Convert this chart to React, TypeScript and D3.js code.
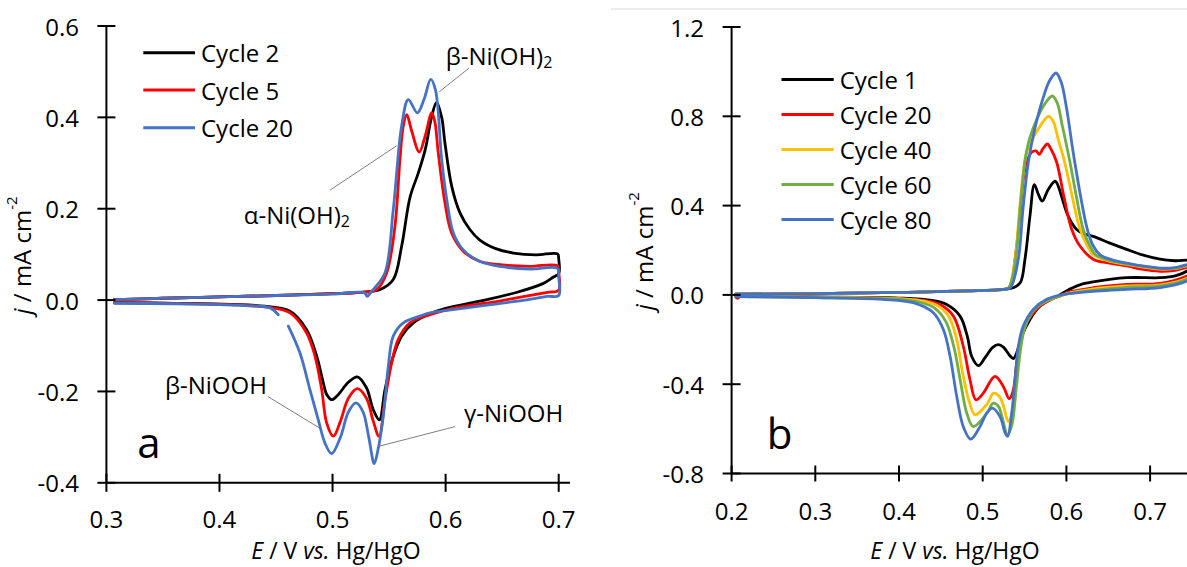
import React from "react";
import * as d3 from "d3";

type Pt = [number, number] | null;

// ---------- Panel a data (E / V, j / mA cm-2), traced as CV loops ----------
const aCycle2: Pt[] = [
  [0.307, 0.001], [0.35, 0.004], [0.40, 0.007], [0.45, 0.010], [0.50, 0.014], [0.53, 0.018],
  [0.542, 0.023], [0.5537, 0.045], [0.5611, 0.118], [0.5685, 0.225], [0.5758, 0.278], [0.582, 0.33],
  [0.5875, 0.40], [0.592, 0.433], [0.5965, 0.40], [0.5994, 0.344], [0.6054, 0.249], [0.6127, 0.191],
  [0.6216, 0.154], [0.630, 0.132], [0.645, 0.112], [0.66, 0.103], [0.68, 0.099], [0.699, 0.101],
  [0.700, 0.09], [0.700, 0.058],
  [0.695, 0.05], [0.686, 0.036], [0.6625, 0.0166], [0.629, -0.003], [0.60, -0.018], [0.586, -0.03],
  [0.5714, -0.05], [0.5611, -0.079], [0.5537, -0.123], [0.5464, -0.196], [0.5414, -0.262],
  [0.536, -0.24], [0.530, -0.192], [0.5219, -0.168], [0.514, -0.18], [0.505, -0.207], [0.4992, -0.218],
  [0.4945, -0.205], [0.4918, -0.181], [0.486, -0.123], [0.4771, -0.065], [0.4624, -0.0245],
  [0.44, -0.0135], [0.41, -0.0095], [0.36, -0.007], [0.307, -0.0055],
];
const aCycle5: Pt[] = [
  [0.307, 0.001], [0.35, 0.004], [0.40, 0.007], [0.45, 0.010], [0.50, 0.014], [0.53, 0.018],
  [0.539, 0.023], [0.5479, 0.06], [0.5552, 0.162], [0.5596, 0.308], [0.5625, 0.38], [0.5656, 0.406],
  [0.570, 0.37], [0.5767, 0.324], [0.582, 0.36], [0.5877, 0.41], [0.5905, 0.39], [0.5935, 0.322],
  [0.5994, 0.213], [0.6053, 0.147], [0.6156, 0.107], [0.630, 0.085], [0.65, 0.077], [0.675, 0.074],
  [0.699, 0.075], [0.700, 0.06], [0.700, 0.022],
  [0.69, 0.017], [0.67, 0.008], [0.64, -0.005], [0.61, -0.016], [0.5862, -0.032], [0.5685, -0.05],
  [0.5581, -0.086], [0.5523, -0.137], [0.5464, -0.218], [0.5411, -0.298], [0.536, -0.265],
  [0.530, -0.215], [0.5219, -0.194], [0.514, -0.215], [0.507, -0.265], [0.5007, -0.298],
  [0.4948, -0.269], [0.4904, -0.196], [0.4845, -0.123], [0.4771, -0.072], [0.4624, -0.028],
  [0.44, -0.015], [0.41, -0.01], [0.36, -0.007], [0.307, -0.006],
];
const aCycle20: Pt[] = [
  [0.307, 0.001], [0.35, 0.004], [0.40, 0.007], [0.45, 0.010], [0.50, 0.013], [0.528, 0.016],
  [0.5307, 0.008], [0.533, 0.014], [0.536, 0.023], [0.5464, 0.06], [0.5537, 0.198], [0.5611, 0.381],
  [0.567, 0.439], [0.575, 0.41], [0.581, 0.44], [0.5868, 0.483], [0.591, 0.46], [0.5965, 0.308],
  [0.601, 0.22], [0.6068, 0.147], [0.6156, 0.11], [0.630, 0.085], [0.65, 0.073], [0.675, 0.068],
  [0.699, 0.069], [0.700, 0.05], [0.700, 0.01],
  [0.69, 0.008], [0.67, 0.0], [0.64, -0.01], [0.61, -0.02], [0.5862, -0.028], [0.5773, -0.035],
  [0.5626, -0.05], [0.5537, -0.079], [0.5493, -0.145], [0.5449, -0.254], [0.540, -0.33],
  [0.5369, -0.358], [0.532, -0.30], [0.527, -0.245], [0.5207, -0.225], [0.514, -0.245],
  [0.507, -0.30], [0.4992, -0.336], [0.4933, -0.313], [0.4874, -0.262], [0.480, -0.196],
  [0.4712, -0.116], [0.4609, -0.057],
  null,
  [0.452, -0.032], [0.4447, -0.017], [0.43, -0.013], [0.40, -0.01], [0.36, -0.008], [0.307, -0.007],
];

// ---------- Panel b data ----------
const bCycle1: Pt[] = [
  [0.205, 0.003], [0.30, 0.006], [0.40, 0.011], [0.48, 0.018], [0.525, 0.025], [0.5366, 0.032],
  [0.545, 0.055], [0.5505, 0.16], [0.5565, 0.354], [0.5617, 0.494], [0.5665, 0.45], [0.5712, 0.42],
  [0.578, 0.47], [0.5864, 0.509], [0.590, 0.49], [0.594, 0.444], [0.602, 0.354], [0.612, 0.294],
  [0.62, 0.275], [0.632, 0.262], [0.652, 0.232], [0.672, 0.204], [0.692, 0.178], [0.712, 0.16],
  [0.73, 0.153], [0.75, 0.152], [0.75, 0.13],
  [0.744, 0.107], [0.73, 0.085], [0.712, 0.077], [0.672, 0.077], [0.632, 0.058], [0.616, 0.045],
  [0.60, 0.018], [0.592, 0.0], [0.584, -0.015], [0.5685, -0.05], [0.5565, -0.11], [0.5466, -0.185],
  [0.5406, -0.26], [0.5366, -0.285], [0.532, -0.27], [0.525, -0.235], [0.5187, -0.2225],
  [0.512, -0.235], [0.503, -0.28], [0.4948, -0.317], [0.4868, -0.275], [0.4816, -0.185],
  [0.4729, -0.095], [0.457, -0.043], [0.44, -0.025], [0.40, -0.014], [0.30, -0.009], [0.205, -0.006],
];
const bCycle20: Pt[] = [
  [0.205, 0.003], [0.30, 0.006], [0.40, 0.011], [0.48, 0.018], [0.525, 0.025], [0.533, 0.035],
  [0.5386, 0.16], [0.544, 0.34], [0.5485, 0.519], [0.5525, 0.594], [0.5585, 0.639], [0.5637, 0.645],
  [0.5676, 0.63], [0.572, 0.655], [0.5772, 0.676], [0.582, 0.65], [0.5884, 0.594], [0.597, 0.44],
  [0.6063, 0.294], [0.616, 0.22], [0.632, 0.16], [0.652, 0.142], [0.672, 0.13], [0.69, 0.115],
  [0.712, 0.106], [0.73, 0.11], [0.75, 0.125], [0.75, 0.1],
  [0.744, 0.085], [0.712, 0.052], [0.672, 0.047], [0.632, 0.032], [0.6004, 0.01], [0.592, -0.006],
  [0.5844, -0.016], [0.5685, -0.05], [0.5565, -0.1], [0.5466, -0.185], [0.5406, -0.305],
  [0.5366, -0.425], [0.5318, -0.465], [0.5246, -0.41], [0.5147, -0.365], [0.5007, -0.44],
  [0.492, -0.47], [0.4848, -0.38], [0.4768, -0.23], [0.465, -0.095], [0.449, -0.043], [0.43, -0.025],
  [0.40, -0.016], [0.30, -0.01], [0.21, -0.008], [0.207, -0.015], [0.205, -0.01],
];
const bCycle40: Pt[] = [
  [0.205, 0.003], [0.30, 0.006], [0.40, 0.011], [0.48, 0.018], [0.525, 0.025], [0.531, 0.032],
  [0.5386, 0.16], [0.544, 0.38], [0.5485, 0.55], [0.5525, 0.64], [0.5605, 0.706], [0.566, 0.74],
  [0.572, 0.775], [0.5784, 0.80], [0.584, 0.78], [0.590, 0.70], [0.598, 0.594], [0.607, 0.44],
  [0.6163, 0.294], [0.625, 0.22], [0.632, 0.18], [0.652, 0.15], [0.672, 0.137], [0.712, 0.115],
  [0.73, 0.118], [0.75, 0.13], [0.75, 0.09],
  [0.744, 0.075], [0.712, 0.045], [0.672, 0.04], [0.632, 0.027], [0.60, 0.005], [0.584, -0.015],
  [0.57, -0.04], [0.56, -0.07], [0.5525, -0.12], [0.546, -0.2], [0.541, -0.33], [0.537, -0.5],
  [0.5306, -0.567], [0.525, -0.5], [0.52, -0.455], [0.513, -0.44], [0.505, -0.49], [0.4908, -0.537],
  [0.484, -0.48], [0.476, -0.35], [0.469, -0.2], [0.46, -0.1], [0.447, -0.05], [0.43, -0.028],
  [0.40, -0.017], [0.30, -0.01], [0.205, -0.008],
];
const bCycle60: Pt[] = [
  [0.205, 0.003], [0.30, 0.006], [0.40, 0.011], [0.48, 0.018], [0.525, 0.025], [0.531, 0.032],
  [0.5386, 0.14], [0.545, 0.4], [0.5505, 0.6], [0.556, 0.7], [0.565, 0.79], [0.575, 0.86],
  [0.5832, 0.891], [0.589, 0.86], [0.595, 0.76], [0.6043, 0.594], [0.612, 0.44], [0.620, 0.294],
  [0.628, 0.22], [0.635, 0.18], [0.652, 0.155], [0.672, 0.14], [0.712, 0.118], [0.73, 0.12],
  [0.75, 0.132], [0.75, 0.085],
  [0.744, 0.07], [0.712, 0.04], [0.672, 0.034], [0.632, 0.02], [0.60, 0.003], [0.58, -0.02],
  [0.566, -0.05], [0.557, -0.09], [0.55, -0.15], [0.545, -0.25], [0.54, -0.42], [0.535, -0.58],
  [0.5298, -0.627], [0.524, -0.56], [0.519, -0.5], [0.5127, -0.485], [0.505, -0.53], [0.4888, -0.59],
  [0.481, -0.53], [0.474, -0.4], [0.466, -0.24], [0.456, -0.12], [0.443, -0.06], [0.425, -0.033],
  [0.40, -0.02], [0.30, -0.012], [0.205, -0.008],
];
const bCycle80: Pt[] = [
  [0.205, 0.003], [0.30, 0.006], [0.40, 0.011], [0.48, 0.018], [0.525, 0.025], [0.533, 0.032],
  [0.5425, 0.16], [0.548, 0.38], [0.5545, 0.594], [0.562, 0.74], [0.572, 0.88], [0.58, 0.96],
  [0.5876, 0.994], [0.594, 0.95], [0.60, 0.84], [0.610, 0.594], [0.625, 0.294], [0.632, 0.22],
  [0.64, 0.18], [0.652, 0.16], [0.672, 0.142], [0.712, 0.12], [0.73, 0.122], [0.75, 0.135],
  [0.75, 0.08],
  [0.744, 0.062], [0.712, 0.033], [0.672, 0.025], [0.636, 0.017], [0.5963, 0.002], [0.5765, -0.02],
  [0.5605, -0.065], [0.5485, -0.14], [0.5426, -0.23], [0.5386, -0.38], [0.5346, -0.53],
  [0.5298, -0.634], [0.527, -0.62], [0.5207, -0.545], [0.5115, -0.507], [0.5048, -0.53],
  [0.4968, -0.59], [0.4857, -0.646], [0.4768, -0.59], [0.469, -0.455], [0.461, -0.275],
  [0.453, -0.155], [0.441, -0.08], [0.417, -0.035], [0.38, -0.02], [0.30, -0.012], [0.205, -0.008],
];

// ---------- Ticks & labels ----------
const aXTicks = [0.3, 0.4, 0.5, 0.6, 0.7];
const aYTicks = [-0.4, -0.2, 0.0, 0.2, 0.4, 0.6];
const bXTicks = [0.2, 0.3, 0.4, 0.5, 0.6, 0.7];
const bYTicks = [-0.8, -0.4, 0.0, 0.4, 0.8, 1.2];

const aLegend = ["Cycle 2", "Cycle 5", "Cycle 20"];
const bLegend = ["Cycle 1", "Cycle 20", "Cycle 40", "Cycle 60", "Cycle 80"];

const FONT = "'Open Sans', 'Noto Sans', sans-serif";
const C_BLACK = "#000000";
const C_RED = "#ff0000";
const C_BLUE = "#4472c4";
const C_YELLOW = "#ffc000";
const C_GREEN = "#70ad47";

interface Series { name: string; data: Pt[]; color: string; }

interface PanelProps {
  x: d3.ScaleLinear<number, number>;
  y: d3.ScaleLinear<number, number>;
  xTicks: number[];
  yTicks: number[];
  xAxisEnd: number;
  series: Series[];
  tickLen: number;
  yLabelX: number;
  xLabelY: number;
  yTitleX: number;
  xTitleX: number;
  legendX1: number;
  legendX2: number;
  legendYs: number[];
  panelLabel: string;
  panelLabelX: number;
  panelLabelY: number;
}

function Panel(p: PanelProps) {
  const line = d3
    .line<Pt>()
    .defined((d) => d !== null)
    .x((d) => p.x((d as [number, number])[0]))
    .y((d) => p.y((d as [number, number])[1]))
    .curve(d3.curveCatmullRom.alpha(0.5));
  const [y0, y1] = p.y.range();
  const axisY = y0;
  const axisX = p.x.range()[0];
  const yTitleY = (y0 + y1) / 2 + 1;
  return (
    <g>
      {p.series.map((s) => (
        <path key={s.name} d={line(s.data) || ""} fill="none" stroke={s.color} strokeWidth={2.8}
          strokeLinejoin="round" strokeLinecap="round" />
      ))}
      <line x1={axisX} x2={axisX} y1={y1} y2={y0} stroke="#000" strokeWidth={2} />
      <line x1={axisX} x2={p.xAxisEnd} y1={axisY} y2={axisY} stroke="#000" strokeWidth={2} />
      {p.yTicks.map((t) => (
        <g key={"yt" + t}>
          <line x1={axisX - 9} x2={axisX + 9} y1={p.y(t)} y2={p.y(t)} stroke="#000" strokeWidth={2} />
          <text x={p.yLabelX} y={p.y(t)} textAnchor="end" dominantBaseline="central"
            fontFamily={FONT} fontSize={24} fill="#000">{t.toFixed(1)}</text>
        </g>
      ))}
      {p.xTicks.map((t) => (
        <g key={"xt" + t}>
          <line x1={p.x(t)} x2={p.x(t)} y1={axisY - p.tickLen} y2={axisY + p.tickLen} stroke="#000" strokeWidth={2} />
          <text x={p.x(t)} y={p.xLabelY} textAnchor="middle" dominantBaseline="central"
            fontFamily={FONT} fontSize={24} fill="#000">{t.toFixed(1)}</text>
        </g>
      ))}
      <text x={p.xTitleX} y={550} textAnchor="middle" dominantBaseline="central" fontFamily={FONT}
        fontSize={23} fill="#000">
        <tspan fontStyle="italic">E</tspan> / V <tspan fontStyle="italic">vs.</tspan> Hg/HgO
      </text>
      <text transform={`translate(${p.yTitleX},${yTitleY}) rotate(-90)`} textAnchor="middle"
        dominantBaseline="central" fontFamily={FONT} fontSize={24} fill="#000">
        <tspan fontStyle="italic">j</tspan> / mA cm<tspan fontSize={15} dy={-10}>-2</tspan>
      </text>
      {p.series.map((s, i) => (
        <g key={"lg" + s.name}>
          <line x1={p.legendX1} x2={p.legendX2} y1={p.legendYs[i]} y2={p.legendYs[i]} stroke={s.color} strokeWidth={3} />
          <text x={p.legendX2 + 6} y={p.legendYs[i]} dominantBaseline="central" fontFamily={FONT}
            fontSize={24} fill="#000">{s.name}</text>
        </g>
      ))}
      <text x={p.panelLabelX} y={p.panelLabelY} textAnchor="middle" fontFamily={FONT} fontSize={42} fill="#000">
        {p.panelLabel}
      </text>
    </g>
  );
}

export default function App() {
  const xa = d3.scaleLinear().domain([0.3, 0.7]).range([106.4, 558.7]);
  const ya = d3.scaleLinear().domain([-0.4, 0.6]).range([482.8, 26]);
  const xb = d3.scaleLinear().domain([0.2, 0.7]).range([731.6, 1150.1]);
  const yb = d3.scaleLinear().domain([-0.8, 1.2]).range([473.5, 27]);

  const aSeries: Series[] = [
    { name: aLegend[0], data: aCycle2, color: C_BLACK },
    { name: aLegend[1], data: aCycle5, color: C_RED },
    { name: aLegend[2], data: aCycle20, color: C_BLUE },
  ];
  const bSeries: Series[] = [
    { name: bLegend[0], data: bCycle1, color: C_BLACK },
    { name: bLegend[1], data: bCycle20, color: C_RED },
    { name: bLegend[2], data: bCycle40, color: C_YELLOW },
    { name: bLegend[3], data: bCycle60, color: C_GREEN },
    { name: bLegend[4], data: bCycle80, color: C_BLUE },
  ];

  const annos = [
    { label: "β-Ni(OH)", sub: "2", tx: 0.6001, ty: 0.535, l: [0.6205, 0.5075, 0.5944, 0.456] },
    { label: "α-Ni(OH)", sub: "2", tx: 0.4215, ty: 0.187, l: [0.4977, 0.2406, 0.5566, 0.3376] },
    { label: "β-NiOOH", sub: "", tx: 0.3518, ty: -0.184, l: [0.4429, -0.2113, 0.4893, -0.2813] },
    { label: "γ-NiOOH", sub: "", tx: 0.6163, ty: -0.247, l: [0.6083, -0.277, 0.5411, -0.320] },
  ];

  return (
    <svg width={1187} height={567} style={{ position: "absolute", left: 0, top: 0, background: "#fff" }}>
      <rect x={0} y={0} width={1187} height={567} fill="#fff" />
      <line x1={611} x2={1187} y1={9} y2={9} stroke="#d9d9d9" strokeWidth={1} />
      {annos.map((a) => (
        <g key={a.label}>
          <line x1={xa(a.l[0])} y1={ya(a.l[1])} x2={xa(a.l[2])} y2={ya(a.l[3])} stroke="#7f7f7f" strokeWidth={1} />
          <text x={xa(a.tx)} y={ya(a.ty)} dominantBaseline="central" fontFamily={FONT} fontSize={24} fill="#000">
            {a.label}
            {a.sub ? <tspan fontSize={16} dy={6}>{a.sub}</tspan> : null}
          </text>
        </g>
      ))}
      <Panel x={xa} y={ya} xTicks={aXTicks} yTicks={aYTicks} xAxisEnd={570} series={aSeries} tickLen={9}
        yLabelX={79} xLabelY={518} yTitleX={21} xTitleX={336} legendX1={143.3} legendX2={195}
        legendYs={[52.7, 90, 127.7]} panelLabel="a" panelLabelX={149} panelLabelY={457.5} />
      <Panel x={xb} y={yb} xTicks={bXTicks} yTicks={bYTicks} xAxisEnd={1187} series={bSeries} tickLen={8}
        yLabelX={704} xLabelY={510} yTitleX={643} xTitleX={955} legendX1={781.5} legendX2={833.7}
        legendYs={[79.6, 114.6, 149.4, 184.4, 219.5]} panelLabel="b" panelLabelX={779.5} panelLabelY={448.5} />
    </svg>
  );
}
